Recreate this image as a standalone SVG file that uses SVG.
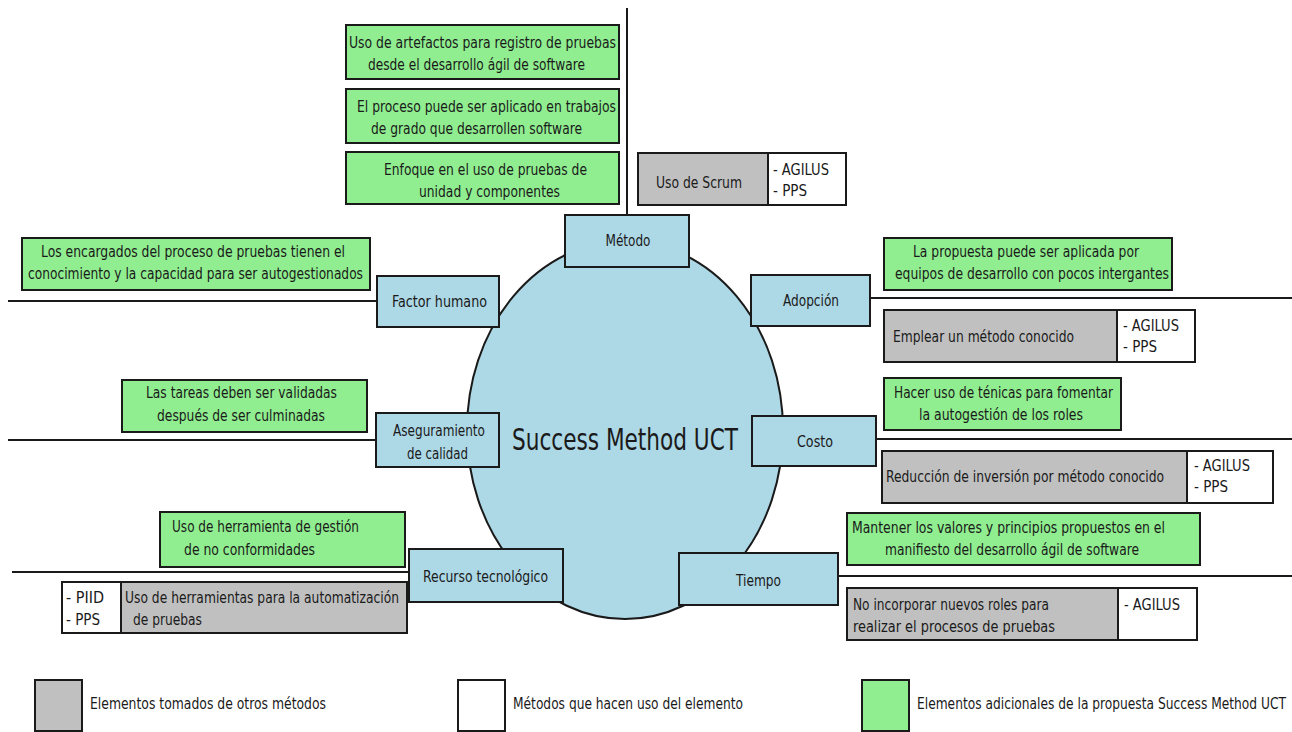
<svg xmlns="http://www.w3.org/2000/svg" width="1292" height="732" viewBox="0 0 1292 732">
<style>
rect{stroke:#1a1a1a;stroke-width:2}
.g{fill:#90ee90}
.gr{fill:#c0c0c0}
.w{fill:#ffffff}
.b{fill:#add8e6}
text{font-family:"DejaVu Sans Condensed","Liberation Sans",sans-serif;font-size:15px;fill:#1a1a1a}
.c{text-anchor:middle}
.conn line{stroke:#1a1a1a;stroke-width:2}
</style>
<rect width="1292" height="732" fill="#ffffff" style="stroke:none"/>
<g id="connectors" class="conn">
<line x1="627" y1="8" x2="627" y2="215"/>
<line x1="8" y1="301" x2="377" y2="301"/>
<line x1="870" y1="298" x2="1292" y2="298"/>
<line x1="8" y1="440" x2="376" y2="440"/>
<line x1="876" y1="439" x2="1292" y2="439"/>
<line x1="12" y1="572" x2="409" y2="572"/>
<line x1="838" y1="576" x2="1292" y2="576"/>
</g>
<g id="center">
<ellipse cx="625" cy="430" rx="158" ry="189" fill="#add8e6" stroke="#1a1a1a" stroke-width="2"/>
<text x="625" y="450" class="c" style="font-size:31px" textLength="226" lengthAdjust="spacingAndGlyphs">Success Method UCT</text>
</g>
<g id="metodo">
<rect class="b" x="565" y="215" width="124" height="52"/>
<text x="628" y="246" class="c" textLength="45" lengthAdjust="spacingAndGlyphs">Método</text>
</g>
<g id="metodo-items">
<rect class="g" x="346" y="25" width="273" height="54"/>
<text x="349" y="48" textLength="267" lengthAdjust="spacingAndGlyphs">Uso de artefactos para registro de pruebas</text>
<text x="368" y="70" textLength="217" lengthAdjust="spacingAndGlyphs">desde el desarrollo ágil de software</text>
<rect class="g" x="346" y="89" width="273" height="54"/>
<text x="357" y="112" textLength="259" lengthAdjust="spacingAndGlyphs">El proceso puede ser aplicado en trabajos</text>
<text x="371" y="134" textLength="211" lengthAdjust="spacingAndGlyphs">de grado que desarrollen software</text>
<rect class="g" x="346" y="152" width="273" height="52"/>
<text x="384" y="175" textLength="203" lengthAdjust="spacingAndGlyphs">Enfoque en el uso de pruebas de</text>
<text x="419" y="197" textLength="141" lengthAdjust="spacingAndGlyphs">unidad y componentes</text>
</g>
<g id="scrum">
<rect class="gr" x="638" y="153" width="130" height="52"/>
<text x="656" y="188" textLength="86" lengthAdjust="spacingAndGlyphs">Uso de Scrum</text>
<rect class="w" x="768" y="153" width="78" height="52"/>
<text x="773" y="175" textLength="56" lengthAdjust="spacingAndGlyphs">- AGILUS</text>
<text x="773" y="196" textLength="34" lengthAdjust="spacingAndGlyphs">- PPS</text>
</g>
<g id="factor-humano">
<rect class="g" x="22" y="238" width="348" height="52"/>
<text x="41" y="257" textLength="304" lengthAdjust="spacingAndGlyphs">Los encargados del proceso de pruebas tienen el</text>
<text x="28" y="279" textLength="335" lengthAdjust="spacingAndGlyphs">conocimiento y la capacidad para ser autogestionados</text>
<rect class="b" x="377" y="276" width="122" height="51"/>
<text x="392" y="307" textLength="95" lengthAdjust="spacingAndGlyphs">Factor humano</text>
</g>
<g id="adopcion">
<rect class="b" x="751" y="275" width="119" height="51"/>
<text x="783" y="306" textLength="56" lengthAdjust="spacingAndGlyphs">Adopción</text>
<rect class="g" x="884" y="238" width="288" height="52"/>
<text x="913" y="257" textLength="226" lengthAdjust="spacingAndGlyphs">La propuesta puede ser aplicada por</text>
<text x="895" y="279" textLength="274" lengthAdjust="spacingAndGlyphs">equipos de desarrollo con pocos intergantes</text>
<rect class="gr" x="884" y="310" width="233" height="52"/>
<text x="893" y="342" textLength="181" lengthAdjust="spacingAndGlyphs">Emplear un método conocido</text>
<rect class="w" x="1117" y="310" width="78" height="52"/>
<text x="1123" y="331" textLength="56" lengthAdjust="spacingAndGlyphs">- AGILUS</text>
<text x="1123" y="352" textLength="34" lengthAdjust="spacingAndGlyphs">- PPS</text>
</g>
<g id="aseguramiento">
<rect class="g" x="122" y="380" width="245" height="52"/>
<text x="146" y="398" textLength="191" lengthAdjust="spacingAndGlyphs">Las tareas deben ser validadas</text>
<text x="157" y="421" textLength="168" lengthAdjust="spacingAndGlyphs">después de ser culminadas</text>
<rect class="b" x="376" y="413" width="123" height="54"/>
<text x="393" y="436" textLength="92" lengthAdjust="spacingAndGlyphs">Aseguramiento</text>
<text x="407" y="459" textLength="61" lengthAdjust="spacingAndGlyphs">de calidad</text>
</g>
<g id="costo">
<rect class="b" x="752" y="416" width="124" height="50"/>
<text x="797" y="447" textLength="36" lengthAdjust="spacingAndGlyphs">Costo</text>
<rect class="g" x="884" y="378" width="237" height="52"/>
<text x="894" y="398" textLength="219" lengthAdjust="spacingAndGlyphs">Hacer uso de ténicas para fomentar</text>
<text x="919" y="420" textLength="164" lengthAdjust="spacingAndGlyphs">la autogestión de los roles</text>
<rect class="gr" x="882" y="451" width="305" height="52"/>
<text x="886" y="482" textLength="278" lengthAdjust="spacingAndGlyphs">Reducción de inversión por método conocido</text>
<rect class="w" x="1187" y="451" width="86" height="52"/>
<text x="1194" y="471" textLength="56" lengthAdjust="spacingAndGlyphs">- AGILUS</text>
<text x="1194" y="492" textLength="34" lengthAdjust="spacingAndGlyphs">- PPS</text>
</g>
<g id="recurso">
<rect class="g" x="160" y="512" width="245" height="55"/>
<text x="172" y="532" textLength="187" lengthAdjust="spacingAndGlyphs">Uso de herramienta de gestión</text>
<text x="184" y="555" textLength="131" lengthAdjust="spacingAndGlyphs">de no conformidades</text>
<rect class="b" x="409" y="549" width="154" height="53"/>
<text x="423" y="582" textLength="125" lengthAdjust="spacingAndGlyphs">Recurso tecnológico</text>
<rect class="w" x="62" y="582" width="59" height="51"/>
<text x="66" y="603" textLength="38" lengthAdjust="spacingAndGlyphs">- PIID</text>
<text x="66" y="625" textLength="34" lengthAdjust="spacingAndGlyphs">- PPS</text>
<rect class="gr" x="121" y="582" width="286" height="51"/>
<text x="125" y="603" textLength="274" lengthAdjust="spacingAndGlyphs">Uso de herramientas para la automatización</text>
<text x="133" y="625" textLength="69" lengthAdjust="spacingAndGlyphs">de pruebas</text>
</g>
<g id="tiempo">
<rect class="b" x="679" y="553" width="159" height="52"/>
<text x="736" y="586" textLength="45" lengthAdjust="spacingAndGlyphs">Tiempo</text>
<rect class="g" x="847" y="513" width="353" height="52"/>
<text x="852" y="533" textLength="313" lengthAdjust="spacingAndGlyphs">Mantener los valores y principios propuestos en el</text>
<text x="885" y="555" textLength="254" lengthAdjust="spacingAndGlyphs">manifiesto del desarrollo ágil de software</text>
<rect class="gr" x="847" y="588" width="271" height="52"/>
<text x="853" y="610" textLength="196" lengthAdjust="spacingAndGlyphs">No incorporar nuevos roles para</text>
<text x="853" y="632" textLength="202" lengthAdjust="spacingAndGlyphs">realizar el  procesos de pruebas</text>
<rect class="w" x="1118" y="588" width="79" height="52"/>
<text x="1124" y="610" textLength="56" lengthAdjust="spacingAndGlyphs">- AGILUS</text>
</g>
<g id="legend">
<rect class="gr" x="35" y="680" width="47" height="51"/>
<text x="90" y="709" textLength="236" lengthAdjust="spacingAndGlyphs">Elementos tomados de otros métodos</text>
<rect class="w" x="458" y="680" width="47" height="51"/>
<text x="513" y="709" textLength="230" lengthAdjust="spacingAndGlyphs">Métodos que hacen uso del elemento</text>
<rect class="g" x="862" y="680" width="47" height="51"/>
<text x="917" y="709" textLength="369" lengthAdjust="spacingAndGlyphs">Elementos adicionales de la propuesta Success Method UCT</text>
</g>
</svg>
